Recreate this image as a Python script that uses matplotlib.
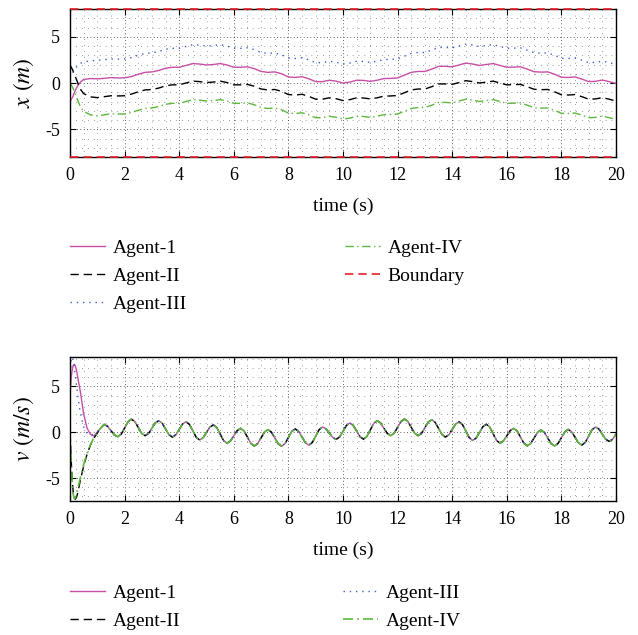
import numpy as np
import matplotlib
matplotlib.use("Agg")
import matplotlib.pyplot as plt
from matplotlib.ticker import MultipleLocator

plt.rcParams['font.family'] = ['Liberation Serif', 'DejaVu Serif']
plt.rcParams['mathtext.fontset'] = 'stix'
plt.rcParams['axes.unicode_minus'] = False

# ---- position data (m) ----
t_x = np.concatenate([[0.0, 0.1, 0.2, 0.3, 0.4], np.arange(0.5, 20.01, 0.25)])

x_agent1 = [-2.00, -1.50, -0.75, -0.20, 0.15,
            0.38, 0.48,
            0.45, 0.50, 0.58, 0.55, 0.55, 0.70, 0.95, 1.15, 1.20, 1.35, 1.60, 1.70,
            1.70, 1.90, 2.10, 2.05, 1.95, 2.00, 2.10, 1.95, 1.70, 1.70, 1.75, 1.55,
            1.25, 1.15, 1.20, 1.00, 0.65, 0.60, 0.68, 0.45, 0.15, 0.15, 0.30, 0.20,
            0.00, 0.10, 0.30, 0.28, 0.18, 0.30, 0.48, 0.50, 0.55, 0.85, 1.15, 1.25,
            1.25, 1.50, 1.80, 1.80, 1.75, 1.95, 2.15, 2.05, 1.90, 2.00, 2.10, 1.90,
            1.70, 1.72, 1.75, 1.50, 1.22, 1.18, 1.20, 0.95, 0.62, 0.60, 0.65, 0.42,
            0.15, 0.18, 0.32, 0.15, -0.05]

x_agent2 = [1.95, 1.40, 0.65, -0.10, -0.75,
            -1.15, -1.50,
            -1.58, -1.48, -1.38, -1.40, -1.38, -1.20, -0.95, -0.75, -0.70, -0.55, -0.30, -0.20,
            -0.20, 0.00, 0.20, 0.15, 0.05, 0.10, 0.20, 0.05, -0.20, -0.20, -0.15, -0.35,
            -0.65, -0.75, -0.70, -0.90, -1.25, -1.30, -1.22, -1.45, -1.75, -1.75, -1.60, -1.70,
            -1.90, -1.80, -1.60, -1.62, -1.72, -1.60, -1.42, -1.40, -1.35, -1.05, -0.75, -0.65,
            -0.65, -0.40, -0.10, -0.10, -0.15, 0.05, 0.25, 0.15, 0.00, 0.10, 0.20, 0.00,
            -0.20, -0.18, -0.15, -0.40, -0.68, -0.72, -0.70, -0.95, -1.28, -1.30, -1.25, -1.48,
            -1.75, -1.72, -1.58, -1.75, -1.95]

x_agent3 = [0.50, 1.10, 1.60, 1.95, 2.15,
            2.25, 2.40,
            2.45, 2.52, 2.60, 2.58, 2.60, 2.75, 3.00, 3.20, 3.25, 3.40, 3.65, 3.75,
            3.75, 3.95, 4.15, 4.10, 4.00, 4.05, 4.15, 4.00, 3.75, 3.75, 3.80, 3.60,
            3.30, 3.20, 3.25, 3.05, 2.70, 2.65, 2.73, 2.50, 2.20, 2.20, 2.35, 2.25,
            2.05, 2.15, 2.35, 2.33, 2.23, 2.35, 2.53, 2.55, 2.60, 2.90, 3.20, 3.30,
            3.30, 3.55, 3.85, 3.85, 3.80, 4.00, 4.20, 4.10, 3.95, 4.05, 4.15, 3.95,
            3.75, 3.77, 3.80, 3.55, 3.27, 3.23, 3.25, 3.00, 2.67, 2.65, 2.70, 2.47,
            2.20, 2.23, 2.37, 2.20, 2.00]

x_agent4 = [0.00, -0.50, -1.20, -2.00, -2.70,
            -3.05, -3.45,
            -3.55, -3.45, -3.32, -3.35, -3.35, -3.20, -2.95, -2.75, -2.70, -2.55, -2.30, -2.20,
            -2.20, -2.00, -1.80, -1.85, -1.95, -1.90, -1.80, -1.95, -2.20, -2.20, -2.15, -2.35,
            -2.65, -2.75, -2.70, -2.90, -3.25, -3.30, -3.22, -3.45, -3.75, -3.75, -3.60, -3.70,
            -3.90, -3.80, -3.60, -3.62, -3.72, -3.60, -3.42, -3.40, -3.35, -3.05, -2.75, -2.65,
            -2.65, -2.40, -2.10, -2.10, -2.15, -1.95, -1.75, -1.85, -2.00, -1.90, -1.80, -2.00,
            -2.20, -2.18, -2.15, -2.40, -2.68, -2.72, -2.70, -2.95, -3.28, -3.30, -3.25, -3.48,
            -3.75, -3.72, -3.58, -3.75, -3.95]

boundary = [8.0, -8.0]

# ---- velocity data (m/s) ----
# start-up transient, each agent separately
t_v0 = [0.0, 0.04, 0.08, 0.12, 0.16, 0.2, 0.25, 0.3, 0.375, 0.5, 0.625, 0.75, 0.875, 1.0]
v0_agent1 = [4.0, 5.8, 6.8, 7.3, 7.4, 7.2, 6.6, 5.7, 4.5, 2.0, 0.45, -0.25, -0.40, 0.0]
v0_agent2 = [0.0, -2.8, -5.2, -6.6, -7.2, -7.3, -7.0, -6.4, -5.3, -3.7, -2.4, -1.4, -0.65, -0.1]
v0_agent3 = [5.0, 7.8, 8.2, 7.8, 7.0, 6.0, 4.8, 3.6, 2.2, 0.6, -0.1, -0.3, -0.2, 0.05]
v0_agent4 = [0.0, -3.0, -5.5, -6.8, -7.25, -7.1, -6.6, -6.0, -5.0, -3.5, -2.3, -1.35, -0.6, -0.05]

# after ~1 s all agents share the same velocity
t_v1 = np.arange(1.125, 20.001, 0.125)
v_common = [0.45, 0.85, 0.65, 0.18, -0.30, -0.50, -0.22, 0.46, 1.14,
            1.42, 1.16, 0.52, -0.12, -0.38, -0.14, 0.44, 1.01,
            1.25, 0.99, 0.36, -0.27, -0.53, -0.29, 0.31, 0.90,
            1.14, 0.85, 0.15, -0.56, -0.85, -0.61, -0.03, 0.56,
            0.80, 0.51, -0.20, -0.91, -1.20, -0.96, -0.39, 0.18,
            0.42, 0.14, -0.54, -1.22, -1.50, -1.24, -0.61, 0.02,
            0.28, 0.02, -0.62, -1.26, -1.52, -1.25, -0.58, 0.09,
            0.36, 0.10, -0.53, -1.16, -1.42, -1.13, -0.43, 0.28,
            0.57, 0.37, -0.11, -0.58, -0.78, -0.52, 0.11, 0.74,
            1.00, 0.74, 0.12, -0.50, -0.76, -0.47, 0.25, 0.96,
            1.25, 1.01, 0.44, -0.14, -0.38, -0.11, 0.53, 1.17,
            1.44, 1.17, 0.53, -0.11, -0.38, -0.13, 0.49, 1.11,
            1.36, 1.08, 0.42, -0.25, -0.53, -0.29, 0.31, 0.90,
            1.14, 0.84, 0.12, -0.60, -0.90, -0.64, -0.02, 0.61,
            0.87, 0.57, -0.17, -0.90, -1.20, -0.96, -0.39, 0.18,
            0.42, 0.14, -0.53, -1.20, -1.48, -1.23, -0.63, -0.02,
            0.23, -0.02, -0.64, -1.25, -1.50, -1.24, -0.60, 0.04,
            0.30, 0.05, -0.55, -1.15, -1.40, -1.11, -0.42, 0.28,
            0.57, 0.34, -0.22, -0.77, -1.00, -0.77, -0.20]

t_v = np.concatenate([t_v0, t_v1])
v_agent1 = np.concatenate([v0_agent1, v_common])
v_agent2 = np.concatenate([v0_agent2, v_common])
v_agent3 = np.concatenate([v0_agent3, v_common])
v_agent4 = np.concatenate([v0_agent4, v_common])

c_mag = '#c84fa6'
c_blue = '#3a5fcd'
c_green = '#5cb83c'
c_red = '#e8202a'

fig = plt.figure(figsize=(6.38, 6.35), dpi=100)
ax1 = fig.add_axes([70/638, 1 - 157/635, 546/638, 148/635])
ax2 = fig.add_axes([70/638, 1 - 501/635, 546/638, 144/635])


def style_axis(ax):
    ax.xaxis.set_major_locator(MultipleLocator(2))
    ax.xaxis.set_minor_locator(MultipleLocator(0.5))
    ax.yaxis.set_major_locator(MultipleLocator(5))
    ax.yaxis.set_minor_locator(MultipleLocator(1))
    ax.grid(which='major', color='black', linestyle=(0, (0.8, 3.2)), linewidth=0.6)
    ax.grid(which='minor', color='#222222', linestyle=(0, (0.7, 7.0)), linewidth=0.55)
    ax.tick_params(which='major', direction='in', top=True, right=True,
                   length=4, width=0.8, labelsize=13, pad=7)
    ax.tick_params(which='minor', length=0)
    for sp in ax.spines.values():
        sp.set_linewidth(1.0)
    ax.set_xlim(0, 20)
    ax.set_xlabel('time (s)', fontsize=14, labelpad=10)


# top: positions
ax1.plot(t_x, x_agent1, color=c_mag, lw=1.0, label='Agent-1')
ax1.plot(t_x, x_agent2, color='black', lw=1.0, linestyle=(0, (6, 3.5)), label='Agent-II')
ax1.plot(t_x, x_agent3, color=c_blue, lw=1.0, linestyle=(0, (1, 3.5)), label='Agent-III')
ax1.plot(t_x, x_agent4, color=c_green, lw=1.0, linestyle=(0, (6, 2.5, 1, 2.5)), label='Agent-IV')
for i, b in enumerate(boundary):
    ax1.axhline(b, color=c_red, lw=1.2, linestyle=(0, (5, 3)), clip_on=False,
                zorder=5, label='Boundary' if i == 0 else None)
ax1.set_ylim(-8, 8)
style_axis(ax1)
ax1.set_ylabel('$x$ $(m)$', fontsize=17, labelpad=7)

# bottom: velocities
ax2.plot(t_v, v_agent1, color=c_mag, lw=1.0, label='Agent-1')
ax2.plot(t_v, v_agent2, color='black', lw=1.0, linestyle=(0, (6, 3.5)), label='Agent-II')
ax2.plot(t_v, v_agent3, color=c_blue, lw=1.0, linestyle=(0, (1, 3.5)), label='Agent-III')
ax2.plot(t_v, v_agent4, color=c_green, lw=1.2, linestyle=(0, (6, 2.5, 1, 2.5)), label='Agent-IV')
ax2.set_ylim(-7.5, 8.2)
style_axis(ax2)
ax2.set_ylabel('$v$ $(m/s)$', fontsize=17, labelpad=7)

leg_kw = dict(loc='upper left', ncol=2, frameon=False, fontsize=14, borderpad=0,
              borderaxespad=0, handlelength=1.8, handletextpad=0.41,
              labelspacing=0.55)
h1, l1 = ax1.get_legend_handles_labels()
fig.legend(h1, l1, bbox_to_anchor=(70/638, 1 - 239/635), columnspacing=8.1, **leg_kw)
h2, l2 = ax2.get_legend_handles_labels()
fig.legend(h2, l2, bbox_to_anchor=(70/638, 1 - 584/635), columnspacing=8.35, **leg_kw)

fig.savefig('out.png', dpi=100)
